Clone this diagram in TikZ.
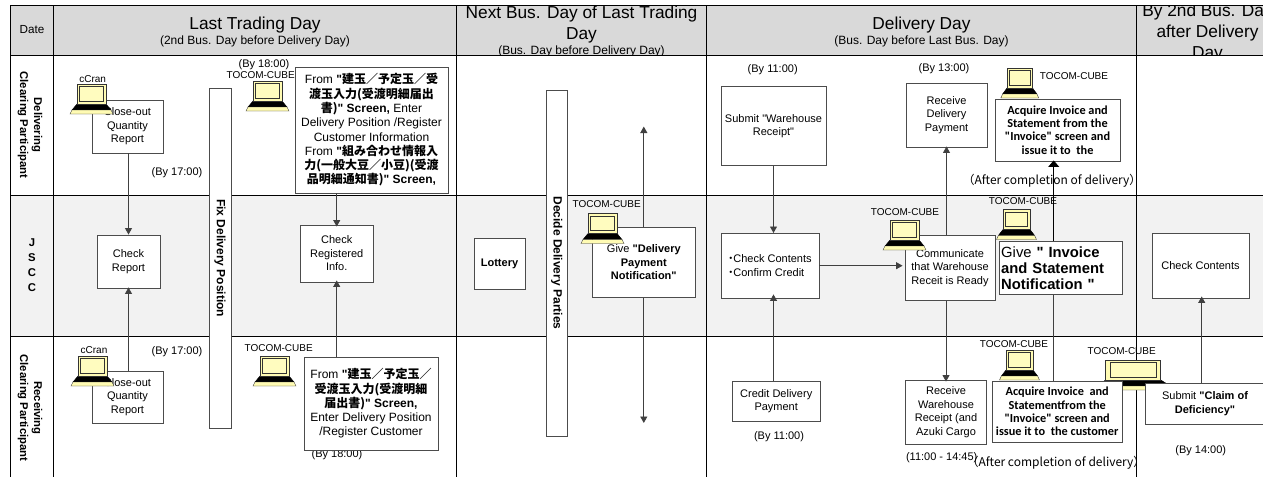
\documentclass[tikz,border=0pt]{standalone}
\usepackage{fontspec}
\setmainfont{Liberation Sans}
\newfontfamily\cjk{Noto Sans CJK JP}
\newfontfamily\carlito{Carlito}
\newfontfamily\plainsans{Liberation Sans} % <-- keeps straight quotes
\usetikzlibrary{arrows.meta}

\newcommand{\kanji}[1]{{\cjk\bfseries #1}}
\newcommand{\subline}{\fontsize{12}{14}\selectfont}
\newcommand{\qmark}{{\plainsans"}}

\tikzset{
   headnode/.style={align=center, inner sep=0pt, font=\fontsize{17.3}{21}\selectfont},
   sidenode/.style={align=center, inner sep=0pt, rotate=270, font=\fontsize{11.3}{14}\selectfont\bfseries},
   flowbox/.style={draw=black!70, line width=0.9pt, fill=white, align=center, inner sep=0pt, font=\fontsize{11}{13.5}\selectfont},
   widebox/.style={flowbox, font=\fontsize{12}{14.3}\selectfont},
   invoicebox/.style={flowbox, font=\carlito\bfseries\fontsize{12.3}{13.4}\selectfont},
   barbox/.style={flowbox, rotate=270, font=\fontsize{12}{14}\selectfont\bfseries},
   timenote/.style={inner sep=0pt, font=\fontsize{11}{12}\selectfont},
   sysnote/.style={inner sep=0pt, font=\fontsize{10}{12}\selectfont},
   aftnote/.style={inner sep=0pt, font=\cjk\fontsize{12}{12}\selectfont},
   flow/.style={draw=black!75, line width=0.9pt, -{Triangle[length=6.5pt,width=7pt]}},
   flowline/.style={draw=black!75, line width=0.9pt},
   pics/laptop/.style={code={
      \draw[fill=black] (0,20) -- (29,20) -- (34,26) -- (-5,26) -- cycle;
      \draw[draw=black!80, fill=yellow!30!white] (-5,26) -- (34,26) -- (36,30) -- (-7,30) -- cycle;
      \draw[draw=black!80, fill=yellow!30!white, line width=0.9pt] (0,0) rectangle (29,20);
      \draw[draw=black!80, fill=yellow!25!white, line width=0.8pt] (2.5,2.5) rectangle (26.5,17);
   }}
}

\begin{document}
\begin{tikzpicture}[x=1pt, y=-1pt]
\useasboundingbox (0,0) rectangle (1263,477);

% bands and grid
\fill[black!15] (10.5,5) rectangle (1263,55);
\fill[black!5] (10.5,195) rectangle (1263,336);
\draw[line width=0.9pt] (1263,5) -- (10.5,5) -- (10.5,477);
\draw[line width=0.9pt] (10.5,55) -- (1263,55);
\draw[line width=0.9pt] (10.5,195) -- (1263,195);
\draw[line width=0.9pt] (10.5,336) -- (1263,336);
\foreach \gridx in {53,456,706.5,1136.5}
   \draw[line width=0.9pt] (\gridx,5) -- (\gridx,477);

% header
\node[headnode, font=\fontsize{11.7}{14}\selectfont] (hdate) at (32,30) {Date};
\node[headnode] (hlast) at (255,32) {Last Trading Day\\[-6pt]{\subline (2nd Bus. Day before Delivery Day)}};
\begin{scope}
   \clip (456.5,5.5) rectangle (706,54.5);
   \node[headnode] (hnext) at (581.5,31.5) {Next Bus. Day of Last Trading\\Day\\[-6pt]{\subline (Bus. Day before Delivery Day)}};
\end{scope}
\node[headnode] (hdeliv) at (921.5,32) {Delivery Day\\[-6pt]{\subline (Bus. Day before Last Bus. Day)}};
\begin{scope}
   \clip (1137,5.5) rectangle (1263,54.5);
   \node[headnode] (hafter) at (1207.5,33) {By 2nd Bus. Day\\after Delivery\\Day};
\end{scope}

% left column
\node[sidenode] (sdeliv) at (30,125) {Delivering\\Clearing Participant};
\node[headnode, font=\fontsize{11.3}{15}\selectfont\bfseries] (sjscc) at (32,265) {J\\S\\C\\C};
\node[sidenode] (srecv) at (30,408) {Receiving\\Clearing Participant};

% system names and times
\node[sysnote] (ccrana) at (92.7,78.7) {cCran};
\node[sysnote] (ccranb) at (94,350) {cCran};
\node[timenote] (tbya) at (264,65) {(By 18:00)};
\node[sysnote] (cubea) at (260.7,75.5) {TOCOM-CUBE};
\node[sysnote] (cubeb) at (278.7,348) {TOCOM-CUBE};
\node[sysnote] (cubec) at (606.7,204) {TOCOM-CUBE};
\node[sysnote] (cubed) at (905,212) {TOCOM-CUBE};
\node[sysnote] (cubee) at (1023,201) {TOCOM-CUBE};
\node[sysnote] (cubef) at (1074,75.6) {TOCOM-CUBE};
\node[sysnote] (cubeg) at (1014,344) {TOCOM-CUBE};
\node[sysnote] (cubeh) at (1121.7,351) {TOCOM-CUBE};
\node[timenote] (tbyb) at (177,173) {(By 17:00)};
\node[timenote] (tbyc) at (177,351.7) {(By 17:00)};
\node[timenote] (tbyd) at (337,455) {(By 18:00)};
\node[timenote] (tbye) at (772.7,70) {(By 11:00)};
\node[timenote] (tbyf) at (779,437) {(By 11:00)};
\node[timenote] (tbyg) at (944,69) {(By 13:00)};
\node[timenote] (tbyh) at (941.7,458) {(11:00 - 14:45)};
\node[timenote] (tbyi) at (1200.7,451) {(By 14:00)};

% wide laptop sits under its neighbours
\pic[xscale=1.9] at (1105.7,360) {laptop};

% boxes
\node[flowbox, minimum width=71pt, minimum height=53pt] (closeouta) at (127.5,126.5) {Close-out\\Quantity\\Report};
\node[flowbox, minimum width=63pt, minimum height=53pt] (checkrep) at (128.5,261.5) {Check\\Report};
\node[flowbox, minimum width=71pt, minimum height=52pt] (closeoutb) at (127.5,397) {Close-out\\Quantity\\Report};
\node[barbox, minimum width=339.5pt, minimum height=22pt] (fixbar) at (220,258.2) {Fix Delivery Position};
\node[widebox, minimum width=153pt, minimum height=126pt] (froma) at (371.5,130) {From {\bfseries\qmark}\kanji{建玉／予定玉／受}\\
   \kanji{渡玉入力(受渡明細届出}\\\kanji{書)}{\bfseries\qmark{} Screen,} Enter\\Delivery Position /Register\\Customer Information\\From {\bfseries\qmark}\kanji{組み合わせ情報入}\\
   \kanji{力(一般大豆／小豆)(受渡}\\\kanji{品明細通知書)}{\bfseries\qmark{} Screen,}};
\node[flowbox, minimum width=72.5pt, minimum height=57pt] (checkreg) at (336.7,253.5) {Check\\Registered\\Info.};
\node[widebox, minimum width=134pt, minimum height=93pt] (fromb) at (371,403.5) {From {\bfseries\qmark}\kanji{建玉／予定玉／}\\\kanji{受渡玉入力(受渡明細}\\
   \kanji{届出書)}{\bfseries\qmark{} Screen,}\\Enter Delivery Position\\/Register Customer};
\node[flowbox, minimum width=51pt, minimum height=51pt, font=\fontsize{11}{13.5}\selectfont\bfseries] (lottery) at (499.5,263.5) {Lottery};
\node[barbox, minimum width=346pt, minimum height=21.5pt] (decidebar) at (556.8,263) {Decide Delivery Parties};
\node[flowbox, minimum width=103.7pt, minimum height=69.5pt] (givepay) at (643.8,262.3) {Give {\bfseries\qmark{}Delivery}\\{\bfseries Payment}\\{\bfseries Notification\qmark}};
\node[flowbox, minimum width=105pt, minimum height=79pt] (submitwr) at (773.5,126) {Submit \qmark{}Warehouse\\Receipt\qmark};
\node[flowbox, minimum width=98pt, minimum height=64.5pt, align=left] (checkcon) at (770,265.7) {\makebox[5pt]{\cjk ・}Check Contents\\\makebox[5pt]{\cjk ・}Confirm Credit};
\node[flowbox, minimum width=88.5pt, minimum height=40pt] (creditpay) at (776.2,401) {Credit Delivery\\Payment};
\node[flowbox, minimum width=81pt, minimum height=64pt] (recvpay) at (946.5,115) {Receive\\Delivery\\Payment};
\node[flowbox, minimum width=90pt, minimum height=65pt] (commun) at (950,268) {Communicate\\that Warehouse\\Receit is Ready};
\node[flowbox, minimum width=81pt, minimum height=64pt] (recvwh) at (946,412) {Receive\\Warehouse\\Receipt (and\\Azuki Cargo};
\node[flowbox, minimum width=97pt, minimum height=65pt] (checkcona) at (1200.5,265.5) {Check Contents};
\node[flowbox, minimum width=120pt, minimum height=41pt] (claim) at (1205,403.5) {Submit {\bfseries\qmark{}Claim of}\\{\bfseries Deficiency\qmark}};

% laptops
\pic at (77,84) {laptop};
\pic at (253,81) {laptop};
\pic at (78,356) {laptop};
\pic at (260,356) {laptop};
\pic at (588,213.5) {laptop};
\pic at (890,220) {laptop};
\pic[xscale=0.93] at (1003,209.5) {laptop};
\pic[xscale=0.88] at (1007,68) {laptop};
\pic[xscale=0.93] at (1006,350) {laptop};

% boxes that sit over a laptop
\node[invoicebox, minimum width=125pt, minimum height=62pt] (acquirea) at (1057.5,130) {Acquire Invoice and\\Statement from the\\"Invoice" screen and\\issue it to~ the};
\node[flowbox, minimum width=123.5pt, minimum height=53pt, text width=119pt, align=left, font=\fontsize{14.8}{16}\selectfont] (giveinv) at (1060.7,268) {Give {\bfseries\qmark{} Invoice}\\{\bfseries and Statement}\\{\bfseries Notification \qmark}};
\node[invoicebox, minimum width=130.5pt, minimum height=61pt] (acquireb) at (1057.2,411.5) {Acquire Invoice~ and\\Statementfrom the\\"Invoice" screen and\\issue it to~ the customer};

\node[aftnote] (afta) at (1052,180.5) {（After completion of delivery）};
\node[aftnote] (aftb) at (1056,462.7) {（After completion of delivery）};

% connectors
\coordinate (paytop) at (643.8,126.5);
\coordinate (paybot) at (643.8,423);
\coordinate (invx) at (1053.7,0);
\coordinate (claimx) at (1201.7,0);
\draw[flow] (closeouta.south -| checkrep.north) -- (checkrep.north);
\draw[flow] (closeoutb.north -| checkrep.south) -- ([yshift=1pt]checkrep.south);
\draw[flow] (froma.south -| checkreg.north) -- ([yshift=-2pt]checkreg.north);
\draw[flow] (fromb.north -| checkreg.south) -- ([yshift=2pt]checkreg.south);
\draw[flow] (givepay.north) -- (paytop);
\draw[flow] (givepay.south) -- (paybot);
\draw[flow] (submitwr.south) -- (submitwr.south |- checkcon.north);
\draw[flow] (creditpay.north -| submitwr.south) -- ([yshift=4pt]checkcon.south -| submitwr.south);
\draw[flow] (checkcon.east) -- ([xshift=-2pt]checkcon.east -| commun.west);
\draw[flow] (commun.north -| recvpay.south) -- ([yshift=1pt]recvpay.south);
\draw[flow] (commun.south -| recvwh.north) -- ([yshift=-2pt]recvwh.north);
\draw[flowline] (acquireb.north -| invx) -- (giveinv.south -| invx);
\draw[flow, draw=black, -{Triangle[length=6.5pt,width=11pt]}] (giveinv.north -| invx) -- ([yshift=1pt]acquirea.south -| invx);
\draw[flow] (claim.north -| claimx) -- ([yshift=2pt]checkcona.south -| claimx);
\end{tikzpicture}
\end{document}
